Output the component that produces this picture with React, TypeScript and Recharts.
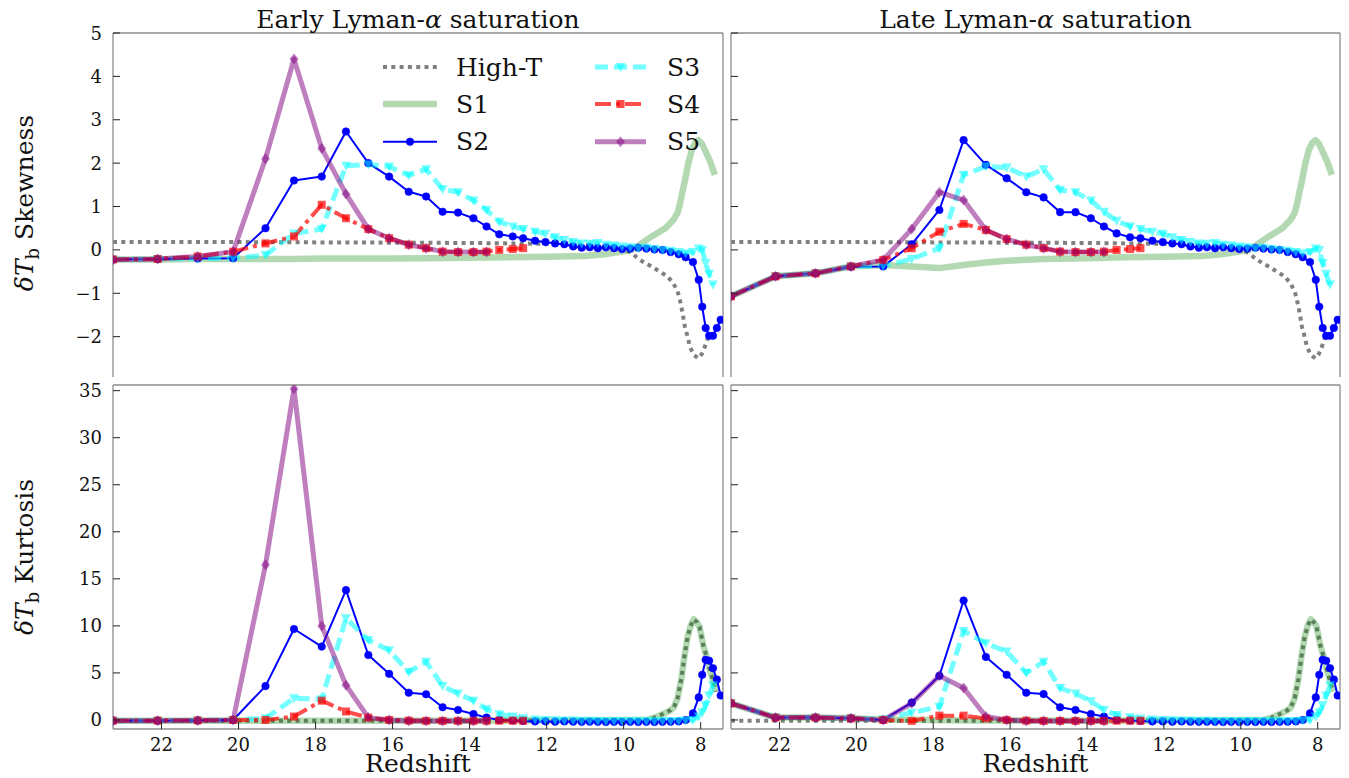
import React from 'react';
import { LineChart, Line, XAxis, YAxis, ReferenceLine, Legend } from 'recharts';

// ---------------- data ----------------
const Z = [23.26, 22.10, 21.06, 20.14, 19.30, 18.56, 17.84, 17.21, 16.63, 16.09, 15.58, 15.13, 14.70, 14.30, 13.90, 13.56, 13.23, 12.88, 12.61, 12.30, 12.03, 11.78, 11.54, 11.31, 11.09, 10.88, 10.67, 10.46, 10.25, 10.04, 9.83, 9.62, 9.41, 9.20, 8.99, 8.78, 8.57, 8.39, 8.20, 8.05, 7.96, 7.87, 7.78, 7.68, 7.58, 7.48];

const X_TICKS = [22, 20, 18, 16, 14, 12, 10, 8];
const SKEW_TICKS = [-2, -1, 0, 1, 2, 3, 4, 5];
const KURT_TICKS = [0, 5, 10, 15, 20, 25, 30, 35];
const SERIES_NAMES = ['High-T', 'S1', 'S2', 'S3', 'S4', 'S5'];
const PANEL_TITLE_HEADS = ['Early Lyman-', 'Late Lyman-'];
const PANEL_TITLE_GREEK = '\u03b1';
const PANEL_TITLE_TAIL = ' saturation';
const X_LABEL = 'Redshift';
const Y_LABELS = ['Skewness', 'Kurtosis'];

// High-T skewness
const HIGHT_SKEW_Z = [23.26, 20, 17, 14, 12, 11, 10.5, 10.0, 9.8, 9.58, 9.3, 9.06, 8.85, 8.71, 8.6, 8.54, 8.47, 8.41, 8.34, 8.28, 8.18, 8.06, 7.97, 7.89, 7.76];
const HIGHT_SKEW = [0.18, 0.18, 0.17, 0.16, 0.14, 0.12, 0.09, 0.02, -0.07, -0.23, -0.37, -0.5, -0.62, -0.77, -0.95, -1.15, -1.45, -1.77, -2.0, -2.23, -2.42, -2.5, -2.4, -2.23, -1.9];

// S1 skewness
const S1_SKEW_Z = [23.26, 22.10, 21.06, 20.14, 19.30, 18.56, 17.84, 17.21, 16.63, 16.09, 15.13, 14.0, 13.0, 12.0, 11.0, 10.5, 10.0, 9.8, 9.58, 9.27, 8.92, 8.71, 8.6, 8.54, 8.47, 8.41, 8.32, 8.23, 8.14, 8.06, 7.97, 7.89, 7.76, 7.63];
const S1_SKEW_EARLY = [-0.22, -0.22, -0.21, -0.21, -0.21, -0.21, -0.2, -0.2, -0.2, -0.2, -0.19, -0.18, -0.17, -0.16, -0.14, -0.1, -0.03, 0.0, 0.12, 0.31, 0.5, 0.69, 0.85, 1.05, 1.35, 1.6, 2.0, 2.3, 2.47, 2.53, 2.45, 2.3, 2.05, 1.73];
const S1_SKEW_LATE = [-1.07, -0.61, -0.54, -0.38, -0.35, -0.38, -0.42, -0.35, -0.29, -0.25, -0.21, -0.19, -0.17, -0.16, -0.14, -0.1, -0.03, 0.0, 0.12, 0.31, 0.5, 0.69, 0.85, 1.05, 1.35, 1.6, 2.0, 2.3, 2.47, 2.53, 2.45, 2.3, 2.05, 1.73];

// S2..S5 skewness (on Z grid)
const S2_SKEW_EARLY = [-0.22, -0.21, -0.20, -0.19, 0.50, 1.60, 1.69, 2.73, 2.00, 1.69, 1.34, 1.23, 0.88, 0.86, 0.73, 0.54, 0.36, 0.31, 0.27, 0.21, 0.18, 0.15, 0.13, 0.08, 0.05, 0.06, 0.04, 0.06, 0.04, 0.02, 0.03, 0.05, 0.03, 0.01, 0.00, -0.05, -0.10, -0.17, -0.28, -0.69, -1.31, -1.80, -1.98, -1.98, -1.80, -1.61];
const S2_SKEW_LATE = [-1.07, -0.61, -0.54, -0.39, -0.38, 0.13, 0.92, 2.53, 1.96, 1.65, 1.33, 1.21, 0.87, 0.87, 0.73, 0.54, 0.38, 0.29, 0.27, 0.21, 0.18, 0.15, 0.13, 0.08, 0.05, 0.06, 0.04, 0.06, 0.04, 0.02, 0.03, 0.05, 0.03, 0.01, 0.00, -0.05, -0.10, -0.17, -0.28, -0.69, -1.31, -1.80, -1.98, -1.98, -1.80, -1.61];
const S3_SKEW_EARLY = [-0.22, -0.21, -0.20, -0.19, -0.12, 0.38, 0.48, 1.94, 1.97, 1.92, 1.72, 1.86, 1.40, 1.33, 1.14, 0.92, 0.65, 0.54, 0.48, 0.42, 0.37, 0.29, 0.23, 0.18, 0.15, 0.14, 0.16, 0.12, 0.10, 0.08, 0.06, 0.04, 0.05, 0.02, 0.00, -0.02, -0.05, -0.08, -0.05, 0.03, 0.00, -0.30, -0.55, -0.80];
const S3_SKEW_LATE = [-1.07, -0.61, -0.54, -0.38, -0.37, -0.21, 0.04, 1.73, 1.92, 1.90, 1.69, 1.86, 1.38, 1.33, 1.14, 0.88, 0.67, 0.54, 0.48, 0.42, 0.37, 0.29, 0.23, 0.18, 0.15, 0.14, 0.16, 0.12, 0.10, 0.08, 0.06, 0.04, 0.05, 0.02, 0.00, -0.02, -0.05, -0.08, -0.05, 0.03, 0.00, -0.30, -0.55, -0.80];
const S4_SKEW_EARLY = [-0.22, -0.21, -0.15, -0.04, 0.15, 0.31, 1.04, 0.73, 0.48, 0.27, 0.12, 0.04, -0.04, -0.05, -0.05, -0.04, 0.00, 0.02, 0.04];
const S4_SKEW_LATE = [-1.07, -0.61, -0.54, -0.38, -0.23, 0.04, 0.42, 0.60, 0.46, 0.25, 0.12, 0.04, -0.04, -0.05, -0.05, -0.04, 0.00, 0.02, 0.04];
const S5_SKEW_EARLY = [-0.23, -0.21, -0.15, -0.04, 2.10, 4.40, 2.34, 1.29, 0.48, 0.27, 0.12, 0.04, -0.04, -0.05, -0.05, -0.05];
const S5_SKEW_LATE = [-1.07, -0.61, -0.54, -0.38, -0.23, 0.48, 1.33, 1.15, 0.46, 0.25, 0.12, 0.04, -0.04, -0.05, -0.05, -0.05];

// High-T and S1 kurtosis
const KURT_LINE_Z = [23.26, 22.10, 21.06, 20.14, 19.30, 17, 14, 12, 10, 9.4, 9.2, 9.0, 8.8, 8.7, 8.6, 8.5, 8.42, 8.34, 8.26, 8.18, 8.1, 8.03, 7.93, 7.85, 7.78, 7.68, 7.6];
const HIGHT_KURT = [-0.07, -0.07, -0.07, -0.07, -0.07, -0.07, -0.07, -0.05, 0.0, 0.0, 0.25, 0.6, 1.0, 1.3, 2.3, 4.4, 6.8, 8.8, 10.0, 10.7, 10.4, 9.9, 7.9, 6.8, 5.6, 4.2, 3.0];
const S1_KURT_EARLY = [-0.07, -0.07, -0.07, -0.07, -0.07, -0.07, -0.07, -0.05, 0.0, 0.0, 0.25, 0.6, 1.0, 1.3, 2.3, 4.4, 6.8, 8.8, 10.0, 10.7, 10.4, 9.9, 7.9, 6.8, 5.6, 4.2, 3.0];
const S1_KURT_LATE = [1.77, 0.25, 0.25, 0.17, 0.05, -0.05, -0.07, -0.05, 0.0, 0.0, 0.25, 0.6, 1.0, 1.3, 2.3, 4.4, 6.8, 8.8, 10.0, 10.7, 10.4, 9.9, 7.9, 6.8, 5.6, 4.2, 3.0];

// S2..S5 kurtosis (on Z grid)
const S2_KURT_EARLY = [-0.07, -0.07, -0.05, 0.00, 3.60, 9.67, 7.80, 13.80, 6.90, 4.90, 2.90, 2.73, 1.35, 1.06, 0.64, 0.25, 0.00, -0.05, -0.10, -0.15, -0.15, -0.18, -0.15, -0.18, -0.20, -0.18, -0.20, -0.22, -0.20, -0.22, -0.20, -0.22, -0.20, -0.22, -0.20, -0.18, -0.15, 0.00, 0.70, 2.40, 4.80, 6.40, 6.30, 5.50, 4.30, 2.60];
const S2_KURT_LATE = [1.77, 0.25, 0.25, 0.17, 0.00, 1.84, 4.70, 12.70, 6.70, 4.80, 2.90, 2.75, 1.35, 1.06, 0.64, 0.36, 0.00, -0.05, -0.10, -0.15, -0.15, -0.18, -0.15, -0.18, -0.20, -0.18, -0.20, -0.22, -0.20, -0.22, -0.20, -0.22, -0.20, -0.22, -0.20, -0.18, -0.15, 0.00, 0.70, 2.40, 4.80, 6.40, 6.30, 5.50, 4.30, 2.60];
const S3_KURT_EARLY = [-0.07, -0.07, -0.05, 0.00, 0.17, 2.30, 2.20, 10.80, 8.50, 7.40, 5.10, 6.20, 3.60, 2.80, 2.05, 1.14, 0.60, 0.36, 0.17, 0.05, 0.00, -0.02, -0.05, -0.05, -0.08, -0.08, -0.10, -0.10, -0.10, -0.12, -0.12, -0.12, -0.12, -0.12, -0.12, -0.10, -0.10, -0.05, 0.00, 0.36, 0.80, 1.60, 2.60, 3.70];
const S3_KURT_LATE = [1.77, 0.25, 0.25, 0.17, 0.07, 0.78, 1.40, 9.45, 8.15, 7.27, 5.00, 6.20, 3.40, 2.80, 2.00, 1.06, 0.53, 0.30, 0.15, 0.05, 0.00, -0.02, -0.05, -0.05, -0.08, -0.08, -0.10, -0.10, -0.10, -0.12, -0.12, -0.12, -0.12, -0.12, -0.12, -0.10, -0.10, -0.05, 0.00, 0.36, 0.80, 1.60, 2.60, 3.70];
const S4_KURT_EARLY = [-0.07, -0.07, -0.05, 0.00, 0.00, 0.36, 2.05, 0.90, 0.25, 0.00, -0.07, -0.10, -0.10, -0.10, -0.10, -0.10, -0.08, -0.08, -0.08];
const S4_KURT_LATE = [1.77, 0.25, 0.25, 0.17, 0.00, -0.10, 0.46, 0.46, 0.17, 0.00, -0.07, -0.10, -0.10, -0.10, -0.10, -0.10, -0.08, -0.08, -0.08];
const S5_KURT_EARLY = [-0.07, -0.07, -0.05, 0.00, 16.50, 35.20, 10.00, 3.70, 0.25, 0.00, -0.10, -0.10, -0.10, -0.10, -0.10, -0.10];
const S5_KURT_LATE = [1.77, 0.25, 0.25, 0.17, 0.00, 1.77, 4.70, 3.40, 0.36, 0.00, -0.10, -0.10, -0.10, -0.10, -0.10, -0.10];

// ---------------- helpers ----------------
type Pt = { z: number; v: number };
const zip = (zs: number[], vs: number[]): Pt[] => vs.map((v, i) => ({ z: zs[i], v }));

const X_DOMAIN: [number, number] = [7.42, 23.26];
const SKEW_DOMAIN: [number, number] = [-2.93, 5];
const KURT_DOMAIN: [number, number] = [-0.96, 35.6];
const SERIF = "'DejaVu Serif', 'Liberation Serif', serif";
const FRAME = '#8c8c8c';
const TICK = '#222';

const STYLE: Record<string, any> = {
  hight: { color: '#808080', width: 4, dash: '4 4.3', opacity: 1 },
  s1: { color: '#008000', width: 6.5, dash: undefined, opacity: 0.3 },
  s2: { color: '#0000ff', width: 2, dash: undefined, opacity: 1 },
  s3: { color: '#00ffff', width: 5, dash: '13 6', opacity: 0.55 },
  s4: { color: '#ff0000', width: 4, dash: '16 5 4 5', opacity: 0.7 },
  s5: { color: '#800080', width: 5, dash: undefined, opacity: 0.5 },
};
const KEYS = ['hight', 's1', 's2', 's3', 's4', 's5'];

function Marker({ kind, cx, cy }: { kind: string; cx: number; cy: number }) {
  if (cx == null || cy == null) return null;
  if (kind === 's2') return <circle cx={cx} cy={cy} r={3.8} fill="#0000ff" stroke="#0000ff" strokeWidth={0.5} />;
  if (kind === 's3') return <path d={`M${cx - 5},${cy - 4}L${cx + 5},${cy - 4}L${cx},${cy + 5}Z`} fill="#00ffff" fillOpacity={0.55} />;
  if (kind === 's4') return <rect x={cx - 4} y={cy - 4} width={8} height={8} fill="#ff0000" fillOpacity={0.7} />;
  if (kind === 's5') return <path d={`M${cx},${cy - 5.5}L${cx + 4.5},${cy}L${cx},${cy + 5.5}L${cx - 4.5},${cy}Z`} fill="#800080" fillOpacity={0.5} />;
  return <g />;
}

const fmt = (v: number) => (v < 0 ? '\u2212' + Math.abs(v) : String(v));
const TXT = { fontFamily: SERIF } as React.CSSProperties;

function XTick(props: any) {
  const { x, y, payload, showLabel } = props;
  return (
    <g>
      <line x1={x} y1={y} x2={x} y2={y - 7} stroke={TICK} strokeWidth={1} />
      {showLabel && (
        <text x={x} y={y + 22} textAnchor="middle" style={TXT} fontSize={18} fill="#111">
          {fmt(payload.value)}
        </text>
      )}
    </g>
  );
}

function YTick(props: any) {
  const { x, y, payload, showLabel } = props;
  return (
    <g>
      <line x1={x} y1={y} x2={x + 7} y2={y} stroke={TICK} strokeWidth={1} />
      {showLabel && (
        <text x={x - 11} y={y} textAnchor="end" dominantBaseline="central" style={TXT} fontSize={18} fill="#111">
          {fmt(payload.value)}
        </text>
      )}
    </g>
  );
}

function LegendBox() {
  const rows = [21, 58, 95.7];
  const cols = [{ h0: 5, h1: 59, t: 78 }, { h0: 217, h1: 268, t: 289 }];
  return (
    <svg width={340} height={118}>
      {KEYS.map((k, i) => {
        const c = cols[Math.floor(i / 3)];
        const y = rows[i % 3];
        const s = STYLE[k];
        const mid = (c.h0 + c.h1) / 2;
        return (
          <g key={k}>
            <line x1={c.h0} y1={y} x2={c.h1} y2={y} stroke={s.color} strokeOpacity={s.opacity} strokeWidth={s.width} strokeDasharray={s.dash} />
            <Marker kind={k} cx={mid} cy={y} />
            <text x={c.t} y={y} dominantBaseline="central" style={TXT} fontSize={25} fill="#111">
              {SERIES_NAMES[i]}
            </text>
          </g>
        );
      })}
    </svg>
  );
}

type SeriesSet = Record<string, Pt[]>;

function Panel(props: {
  left: number; top: number; width: number; height: number;
  margin: { top: number; right: number; bottom: number; left: number };
  yWidth: number; xHeight: number; yDomain: [number, number]; yTicks: number[];
  showX: boolean; showY: boolean; series: SeriesSet; legend?: boolean;
}) {
  const { left, top, width, height, margin, yWidth, xHeight, yDomain, yTicks, showX, showY, series, legend } = props;
  return (
    <div style={{ position: 'absolute', left, top }}>
      <LineChart width={width} height={height} margin={margin}>
        <XAxis
          type="number" dataKey="z" domain={X_DOMAIN} reversed allowDataOverflow ticks={X_TICKS} interval={0}
          height={xHeight} tickSize={0} tickMargin={0} tickLine={false}
          axisLine={{ stroke: FRAME, strokeWidth: 1.3 }}
          tick={(p: any) => <XTick {...p} showLabel={showX} />}
        />
        <YAxis
          type="number" domain={yDomain} allowDataOverflow ticks={yTicks} interval={0}
          width={yWidth} tickSize={0} tickMargin={0} tickLine={false}
          axisLine={{ stroke: FRAME, strokeWidth: 1.3 }}
          tick={(p: any) => <YTick {...p} showLabel={showY} />}
        />
        <ReferenceLine y={yDomain[1]} stroke={FRAME} strokeWidth={1.3} />
        <ReferenceLine x={X_DOMAIN[0]} stroke={FRAME} strokeWidth={1.3} />
        {KEYS.map((k, i) => {
          const s = STYLE[k];
          const hasDot = k !== 'hight' && k !== 's1';
          return (
            <Line
              key={k}
              name={SERIES_NAMES[i]}
              data={series[k]}
              dataKey="v"
              type="linear"
              stroke={s.color}
              strokeOpacity={s.opacity}
              strokeWidth={s.width}
              strokeDasharray={s.dash}
              strokeLinejoin="round"
              dot={hasDot ? (p: any) => <Marker key={`d${k}${p.index}`} kind={k} cx={p.cx} cy={p.cy} /> : false}
              activeDot={false}
              isAnimationActive={false}
            />
          );
        })}
        {legend && (
          <Legend
            layout="horizontal" verticalAlign="middle" align="center"
            wrapperStyle={{ left: 378, top: 46, width: 340, height: 118 }}
            content={() => <LegendBox />}
          />
        )}
      </LineChart>
    </div>
  );
}

function YLabel({ x, y, word }: { x: number; y: number; word: string }) {
  return (
    <text transform={`rotate(-90 ${x} ${y})`} x={x} y={y} textAnchor="middle" style={TXT} fontSize={25} fill="#111">
      <tspan fontStyle="italic">{'\u03b4T'}</tspan>
      <tspan dy={6} fontSize={18}>b</tspan>
      <tspan dy={-6}>{' ' + word}</tspan>
    </text>
  );
}

function Title({ x, i }: { x: number; i: number }) {
  return (
    <text x={x} y={28} textAnchor="middle" style={TXT} fontSize={25} fill="#111">
      {PANEL_TITLE_HEADS[i]}
      <tspan fontStyle="italic">{PANEL_TITLE_GREEK}</tspan>
      {PANEL_TITLE_TAIL}
    </text>
  );
}

export default function App() {
  const skewEarly: SeriesSet = {
    hight: zip(HIGHT_SKEW_Z, HIGHT_SKEW), s1: zip(S1_SKEW_Z, S1_SKEW_EARLY),
    s2: zip(Z, S2_SKEW_EARLY), s3: zip(Z, S3_SKEW_EARLY), s4: zip(Z, S4_SKEW_EARLY), s5: zip(Z, S5_SKEW_EARLY),
  };
  const skewLate: SeriesSet = {
    hight: zip(HIGHT_SKEW_Z, HIGHT_SKEW), s1: zip(S1_SKEW_Z, S1_SKEW_LATE),
    s2: zip(Z, S2_SKEW_LATE), s3: zip(Z, S3_SKEW_LATE), s4: zip(Z, S4_SKEW_LATE), s5: zip(Z, S5_SKEW_LATE),
  };
  const kurtEarly: SeriesSet = {
    hight: zip(KURT_LINE_Z, HIGHT_KURT), s1: zip(KURT_LINE_Z, S1_KURT_EARLY),
    s2: zip(Z, S2_KURT_EARLY), s3: zip(Z, S3_KURT_EARLY), s4: zip(Z, S4_KURT_EARLY), s5: zip(Z, S5_KURT_EARLY),
  };
  const kurtLate: SeriesSet = {
    hight: zip(KURT_LINE_Z, HIGHT_KURT), s1: zip(KURT_LINE_Z, S1_KURT_LATE),
    s2: zip(Z, S2_KURT_LATE), s3: zip(Z, S3_KURT_LATE), s4: zip(Z, S4_KURT_LATE), s5: zip(Z, S5_KURT_LATE),
  };

  return (
    <div style={{ position: 'absolute', left: 0, top: 0, width: 1349, height: 778, background: '#fff', fontFamily: SERIF, overflow: 'hidden' }}>
      <Panel left={0} top={0} width={728} height={380} margin={{ top: 33, right: 5, bottom: 3, left: 0 }}
        yWidth={113} xHeight={0} yDomain={SKEW_DOMAIN} yTicks={SKEW_TICKS} showX={false} showY series={skewEarly} legend />
      <Panel left={721} top={0} width={628} height={380} margin={{ top: 33, right: 9, bottom: 3, left: 0 }}
        yWidth={10} xHeight={0} yDomain={SKEW_DOMAIN} yTicks={SKEW_TICKS} showX={false} showY={false} series={skewLate} />
      <Panel left={0} top={375} width={728} height={403} margin={{ top: 10, right: 5, bottom: 0, left: 0 }}
        yWidth={113} xHeight={49} yDomain={KURT_DOMAIN} yTicks={KURT_TICKS} showX showY series={kurtEarly} />
      <Panel left={721} top={375} width={628} height={403} margin={{ top: 10, right: 9, bottom: 0, left: 0 }}
        yWidth={10} xHeight={49} yDomain={KURT_DOMAIN} yTicks={KURT_TICKS} showX showY={false} series={kurtLate} />
      <svg width={1349} height={778} style={{ position: 'absolute', left: 0, top: 0, pointerEvents: 'none' }}>
        <Title x={418} i={0} />
        <Title x={1035.5} i={1} />
        <text x={418} y={772} textAnchor="middle" style={TXT} fontSize={25} fill="#111">{X_LABEL}</text>
        <text x={1035.5} y={772} textAnchor="middle" style={TXT} fontSize={25} fill="#111">{X_LABEL}</text>
        <YLabel x={33} y={203} word={Y_LABELS[0]} />
        <YLabel x={33} y={557} word={Y_LABELS[1]} />
      </svg>
    </div>
  );
}
